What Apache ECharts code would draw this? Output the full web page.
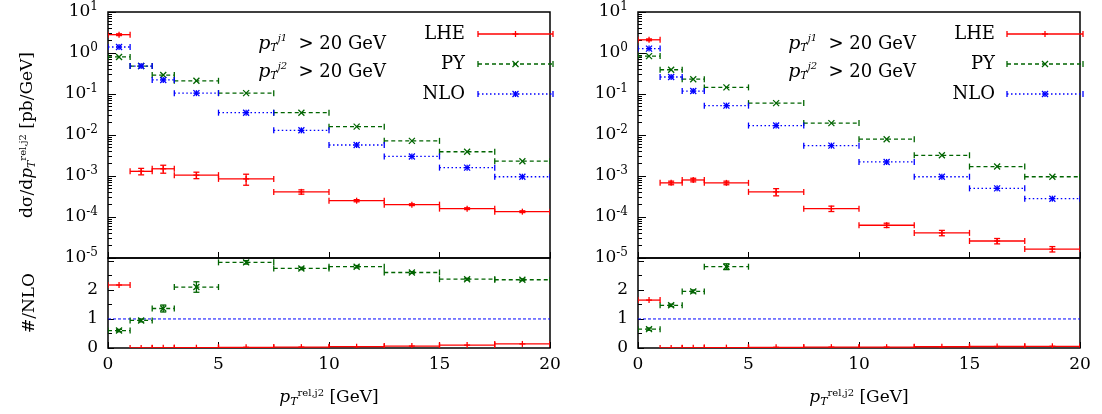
<!DOCTYPE html>
<html>
<head>
<meta charset="utf-8">
<script src="https://cdn.jsdelivr.net/npm/echarts@6/dist/echarts.min.js"></script>
<style>html,body{margin:0;background:#fff}#chart{width:1102px;height:414px}</style>
</head>
<body>
<div id="chart"></div>
<script>
// bin edges in GeV
var edges = [0, 1, 2, 3, 5, 7.5, 10, 12.5, 15, 17.5, 20];
var xTicks = [0, 5, 10, 15, 20];

// left panel
var leftLHE = [2.8, 1.3e-3, 1.5e-3, 1.05e-3, 8.5e-4, 4.1e-4, 2.5e-4, 2.0e-4, 1.6e-4, 1.35e-4];
var leftLHEerr = [0.05, 0.18, 0.22, 0.18, 0.3, 0.12, 0.06, 0.05, 0.05, 0.05];
var leftPY = [0.8, 0.48, 0.29, 0.21, 0.105, 0.035, 0.016, 0.0072, 0.0039, 0.0023];
var leftNLO = [1.4, 0.48, 0.22, 0.105, 0.035, 0.013, 0.0057, 0.003, 0.0016, 0.00096];
var leftRatioLHE = [2.17, 0.003, 0.007, 0.01, 0.024, 0.03, 0.044, 0.067, 0.1, 0.14];
var leftRatioPY = [0.6, 0.95, 1.36, 2.1, 2.95, 2.74, 2.8, 2.6, 2.37, 2.35];
var leftRatioPYerr = [0.04, 0.05, 0.12, 0.18, 0.06, 0.04, 0.04, 0.03, 0.03, 0.03];

// right panel
var rightLHE = [2.1, 6.8e-4, 8e-4, 6.8e-4, 4.1e-4, 1.6e-4, 6.3e-5, 4.1e-5, 2.6e-5, 1.65e-5];
var rightLHEerr = [0.05, 0.1, 0.1, 0.1, 0.2, 0.15, 0.12, 0.15, 0.15, 0.15];
var rightPY = [0.84, 0.39, 0.23, 0.145, 0.06, 0.0195, 0.0079, 0.0032, 0.0017, 0.00096];
var rightNLO = [1.28, 0.26, 0.118, 0.052, 0.017, 0.0055, 0.0022, 0.00096, 0.0005, 0.00028];
var rightRatioLHE = [1.65, 0.003, 0.007, 0.013, 0.024, 0.029, 0.029, 0.043, 0.052, 0.059];
var rightRatioPY = [0.65, 1.47, 1.95, 2.8, 3.5, 3.5, 3.6, 3.3, 3.4, 3.4];
var rightRatioPYerr = [0.04, 0.04, 0.05, 0.1, 0.1, 0.1, 0.1, 0.1, 0.1, 0.1];

var RED = '#ff0000', GREEN = '#006400', BLUE = '#0000ff';
var FONT = 'DejaVu Serif';
var MARKERS = ['plus', 'cross', 'star'];

function bins(vals, errs, relative) {
    return vals.map(function (v, i) {
        var e = errs ? errs[i] : 0;
        return [edges[i], edges[i + 1], v, relative ? v * e : e];
    });
}

function markerLines(c, marker, solid) {
    var m = 3, out = [];
    if (marker === 'plus' || marker === 'star') {
        out.push({ type: 'line', shape: { x1: c[0] - m, y1: c[1], x2: c[0] + m, y2: c[1] }, style: solid });
        out.push({ type: 'line', shape: { x1: c[0], y1: c[1] - m, x2: c[0], y2: c[1] + m }, style: solid });
    }
    if (marker === 'cross' || marker === 'star') {
        out.push({ type: 'line', shape: { x1: c[0] - m, y1: c[1] - m, x2: c[0] + m, y2: c[1] + m }, style: solid });
        out.push({ type: 'line', shape: { x1: c[0] - m, y1: c[1] + m, x2: c[0] + m, y2: c[1] - m }, style: solid });
    }
    return out;
}

function renderer(color, dash, marker) {
    return function (params, api) {
        var x0 = api.value(0), x1 = api.value(1), y = api.value(2), e = api.value(3);
        var a = api.coord([x0, y]), b = api.coord([x1, y]);
        var c = api.coord([(x0 + x1) / 2, y]);
        var st = { stroke: color, lineWidth: 1.3, lineDash: dash };
        var solid = { stroke: color, lineWidth: 1.3 };
        var kids = [
            { type: 'line', shape: { x1: a[0], y1: a[1], x2: b[0], y2: b[1] }, style: st },
            { type: 'line', shape: { x1: a[0], y1: a[1] - 3, x2: a[0], y2: a[1] + 3 }, style: solid },
            { type: 'line', shape: { x1: b[0], y1: b[1] - 3, x2: b[0], y2: b[1] + 3 }, style: solid }
        ];
        if (e > 0) {
            var hi = api.coord([(x0 + x1) / 2, y + e]), lo = api.coord([(x0 + x1) / 2, y - e]);
            kids.push({ type: 'line', shape: { x1: c[0], y1: hi[1], x2: c[0], y2: lo[1] }, style: solid });
            kids.push({ type: 'line', shape: { x1: c[0] - 3, y1: hi[1], x2: c[0] + 3, y2: hi[1] }, style: solid });
            kids.push({ type: 'line', shape: { x1: c[0] - 3, y1: lo[1], x2: c[0] + 3, y2: lo[1] }, style: solid });
        }
        return { type: 'group', children: kids.concat(markerLines(c, marker, solid)) };
    };
}

function histSeries(data, idx, color, dash, marker) {
    return {
        type: 'custom', xAxisIndex: idx, yAxisIndex: idx, clip: true,
        renderItem: renderer(color, dash, marker),
        encode: { x: [0, 1], y: 2 },
        data: data, z: marker === 'plus' ? 5 : 3
    };
}

var grids = [
    { left: 108, width: 442, top: 12, height: 246 },
    { left: 108, width: 442, top: 258, height: 90 },
    { left: 638, width: 442, top: 12, height: 246 },
    { left: 638, width: 442, top: 258, height: 90 }
];
grids.forEach(function (g) { g.show = true; g.borderColor = '#000'; g.borderWidth = 1.5; g.backgroundColor = 'transparent'; });

var subSup = {
    i: { fontSize: 17, fontFamily: FONT, fontStyle: 'italic' },
    sub: { fontSize: 11, padding: [8, 0, 0, 0], fontFamily: FONT, fontStyle: 'italic' },
    sup: { fontSize: 10, padding: [0, 0, 10, 0], fontFamily: FONT }
};

function xAxis(idx, labels) {
    return {
        type: 'value', gridIndex: idx, min: 0, max: 20, interval: 5,
        axisLine: { show: false },
        axisTick: { show: true, inside: true, length: 6, lineStyle: { color: '#000' } },
        splitLine: { show: false },
        axisLabel: { show: labels, color: '#000', fontFamily: FONT, fontSize: 17, margin: 8,
            formatter: function (v) { return xTicks.indexOf(v) >= 0 ? v : ''; } },
        name: labels ? '{i|p}{sub|T}{sup|rel,j2} [GeV]' : '',
        nameLocation: 'middle', nameGap: 40,
        nameTextStyle: { color: '#000', fontFamily: FONT, fontSize: 17, rich: subSup }
    };
}

function logAxis(idx, named) {
    return {
        type: 'log', gridIndex: idx, min: 1e-5, max: 10, logBase: 10, interval: 1,
        axisLine: { show: false },
        axisTick: { show: true, inside: true, length: 8, lineStyle: { color: '#000' } },
        minorTick: { show: true, length: 4, splitNumber: 9, lineStyle: { color: '#000' } },
        splitLine: { show: false },
        axisLabel: { color: '#000', fontFamily: FONT, fontSize: 17, margin: 10,
            formatter: function (v) { return '10{s|' + Math.round(Math.log10(v)) + '}'; },
            rich: { s: { fontSize: 12, padding: [0, 0, 10, 0], fontFamily: FONT } } },
        name: named ? 'dσ/d{i|p}{sub|T}{sup|rel,j2} [pb/GeV]' : '',
        nameLocation: 'middle', nameGap: 70, nameRotate: 90,
        nameTextStyle: { color: '#000', fontFamily: FONT, fontSize: 17, rich: subSup }
    };
}

function ratioAxis(idx, named) {
    return {
        type: 'value', gridIndex: idx, min: 0, max: 3.1, interval: 1,
        axisLine: { show: false },
        axisTick: { show: true, inside: true, length: 6, lineStyle: { color: '#000' } },
        minorTick: { show: true, splitNumber: 2, length: 4, lineStyle: { color: '#000' } },
        splitLine: { show: false },
        axisLabel: { color: '#000', fontFamily: FONT, fontSize: 17, margin: 10,
            formatter: function (v) { return v <= 2 ? v : ''; } },
        name: named ? '#/NLO' : '',
        nameLocation: 'middle', nameGap: 70, nameRotate: 90,
        nameTextStyle: { color: '#000', fontFamily: FONT, fontSize: 17 }
    };
}

function unitLine(idx) {
    return { type: 'line', xAxisIndex: idx, yAxisIndex: idx, data: [[0, 1], [20, 1]],
        symbol: 'none', lineStyle: { color: BLUE, width: 1, type: [3, 2] }, z: 1 };
}

var series = [
    histSeries(bins(leftPY, null), 0, GREEN, [4, 3], 'cross'),
    histSeries(bins(leftNLO, null), 0, BLUE, [1.5, 2.5], 'star'),
    histSeries(bins(leftLHE, leftLHEerr, true), 0, RED, null, 'plus'),
    unitLine(1),
    histSeries(bins(leftRatioPY, leftRatioPYerr), 1, GREEN, [4, 3], 'cross'),
    histSeries(bins(leftRatioLHE, null), 1, RED, null, 'plus'),
    histSeries(bins(rightPY, null), 2, GREEN, [4, 3], 'cross'),
    histSeries(bins(rightNLO, null), 2, BLUE, [1.5, 2.5], 'star'),
    histSeries(bins(rightLHE, rightLHEerr, true), 2, RED, null, 'plus'),
    unitLine(3),
    histSeries(bins(rightRatioPY, rightRatioPYerr), 3, GREEN, [4, 3], 'cross'),
    histSeries(bins(rightRatioLHE, null), 3, RED, null, 'plus')
];

var legendNames = ['LHE', 'PY', 'NLO'];
var legendColors = [RED, GREEN, BLUE];
var legendDash = [null, [4, 3], [1.5, 2.5]];
var cutRich = {
    i: { fontStyle: 'italic', fontSize: 19, fontFamily: FONT },
    sub: { fontSize: 11, padding: [8, 0, 0, 0], fontFamily: FONT, fontStyle: 'italic' },
    sup: { fontSize: 10, padding: [0, 0, 12, 0], fontFamily: FONT, fontStyle: 'italic' }
};

function legendGraphics(textRight, lineX0, lineX1, cutRight) {
    var out = [];
    legendNames.forEach(function (n, i) {
        var y = 34 + i * 30;
        var solid = { stroke: legendColors[i], lineWidth: 1.3 };
        out.push({ type: 'text', x: textRight, y: y, style: { text: n, font: '18px "' + FONT + '"', fill: '#000', align: 'right', verticalAlign: 'middle' } });
        out.push({ type: 'line', shape: { x1: lineX0, y1: y, x2: lineX1, y2: y }, style: { stroke: legendColors[i], lineWidth: 1.3, lineDash: legendDash[i] } });
        out.push({ type: 'line', shape: { x1: lineX0, y1: y - 3, x2: lineX0, y2: y + 3 }, style: solid });
        out.push({ type: 'line', shape: { x1: lineX1, y1: y - 3, x2: lineX1, y2: y + 3 }, style: solid });
        markerLines([(lineX0 + lineX1) / 2, y], MARKERS[i], solid).forEach(function (l) { out.push(l); });
    });
    ['1', '2'].forEach(function (k, i) {
        out.push({ type: 'text', x: cutRight, y: 44 + i * 28,
            style: { text: '{i|p}{sub|T}{sup|j' + k + '}  > 20 GeV', font: '18px "' + FONT + '"', fill: '#000', align: 'right', verticalAlign: 'middle', rich: cutRich } });
    });
    return out;
}

var chart = echarts.init(document.getElementById('chart'));
chart.setOption({
    animation: false,
    grid: grids,
    xAxis: [xAxis(0, false), xAxis(1, true), xAxis(2, false), xAxis(3, true)],
    yAxis: [logAxis(0, true), ratioAxis(1, true), logAxis(2, false), ratioAxis(3, false)],
    series: series,
    graphic: legendGraphics(465, 478, 553, 386).concat(legendGraphics(995, 1007, 1083, 916))
});
</script>
</body>
</html>
